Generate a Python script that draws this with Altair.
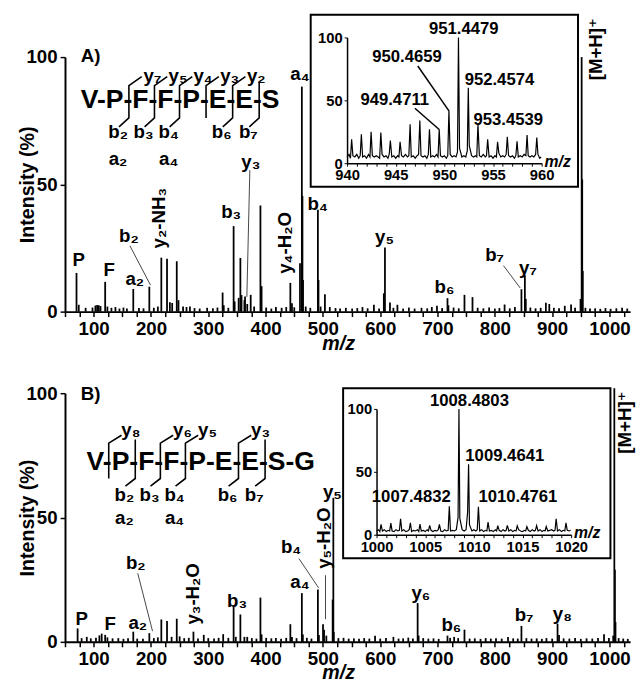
import altair as alt
import pandas as pd

FONT = "Liberation Sans, DejaVu Sans, sans-serif"

# ================= DATA =================
# Panel A: VPFFPEES spectrum (m/z, relative intensity %)
a_mz = [70.07, 74, 86, 98, 103, 106, 109, 112, 120.08, 124, 131, 138, 145, 152, 158,
        169.13, 179, 187, 197.13, 205, 212, 218.07, 228, 233, 237, 245, 248, 256, 262,
        268, 276, 285, 298, 308, 316, 325, 327, 335, 344.2, 346, 353, 356, 358, 363,
        364.13, 368, 374, 380, 391, 393, 401, 410, 418, 428, 436, 443.2, 446, 450, 460,
        463.26, 464.3, 465.3, 470, 478, 491.26, 492.3, 496, 503.5, 512, 522, 530, 540,
        551, 560, 569, 578, 589, 598, 606.3, 608.25, 617, 623, 630, 640, 650, 660, 672,
        682, 690, 699, 708, 717.36, 719, 728, 737, 747, 761, 770, 780, 790, 800, 808,
        817, 826, 835, 846.4, 852.38, 854, 862, 871, 880, 889, 895, 903, 912, 922, 933,
        940, 949.5, 951.45, 952.45, 953.45, 958, 966, 975, 984, 993, 1002, 1012, 1022,
        1031]
a_int = [15.2, 2.7, 1.5, 1.6, 2.4, 2.6, 2.5, 2.2, 11.7, 2.0, 1.5, 1.8, 1.2, 1.6, 1.2,
         8.9, 1.4, 1.3, 9.8, 1.5, 2.0, 21.2, 20.8, 3.7, 3.4, 19.8, 4.5, 2.0, 1.8,
         2.0, 1.4, 1.2, 1.5, 1.3, 1.6, 7.5, 2.5, 1.5, 33.6, 4.0, 5.4, 21.1, 6.5, 4.5,
         5.9, 3.0, 6.6, 2.0, 41.7, 10.0, 1.6, 1.2, 1.8, 1.5, 1.8, 11.3, 3.3, 1.7, 19.0,
         88.4, 45.4, 12.4, 2.0, 1.5, 40.0, 12.4, 2.0, 6.8, 1.8, 1.4, 1.2, 1.5,
         1.2, 1.4, 1.8, 1.3, 2.7, 1.2, 7.2, 25.2, 3.6, 1.5, 2.7, 1.2, 1.6, 1.2, 1.5,
         1.3, 1.8, 2.3, 1.4, 5.3, 2.5, 1.6, 1.3, 6.6, 5.7, 1.5, 1.3, 1.6, 1.2, 1.4,
         2.8, 1.3, 1.8, 8.8, 14.3, 5.0, 1.6, 1.3, 1.5, 3.5, 3.0, 1.5, 1.3, 2.3, 2.8,
         1.5, 5.0, 100, 52, 16, 1.5, 1.2, 1.3, 1.1, 1.4, 1.1, 1.3, 1.5,
         1.2]

# Panel B: VPFFPEESG spectrum
b_mz = [72, 79, 88, 95, 104, 110, 114, 120.08, 124, 133, 143, 152, 160,
        169.13, 176, 186, 197.13, 205, 212, 218.07, 228, 236, 245, 250, 258, 266,
        274.1, 282, 292.1, 300, 310, 318, 326, 335, 344.2, 348, 356, 363, 368,
        376, 384, 391, 393, 401, 410, 418, 427, 436, 443.2, 446, 454, 463.26,
        465, 472, 480, 491.26, 493, 500.2, 502, 506, 517, 518.2, 519, 527, 536,
        545, 554, 563, 572, 581, 591, 600, 610, 623, 632, 640, 649, 657,
        665.29, 667, 675, 684, 693, 702, 717.36, 722, 729, 736, 747, 756, 765,
        775, 784, 793, 802, 812, 823, 832, 840, 846.4, 855, 864, 873, 882,
        890, 900, 909.4, 912, 920, 930, 940, 950, 960, 970, 980, 990.5, 999,
        1006.5, 1008.48, 1009.47, 1010.5, 1016, 1024, 1032]
b_int = [5.4, 1.5, 2.0, 1.4, 1.6, 2.6, 3.3, 2.8, 1.8, 1.4, 1.5, 1.2, 1.4,
         4.1, 1.3, 1.2, 3.5, 1.5, 1.8, 9.0, 8.4, 2.0, 9.3, 2.2, 1.5, 1.6,
         4.1, 1.3, 2.8, 1.5, 1.3, 1.6, 3.1, 1.6, 14.6, 2.0, 11.0, 2.0, 2.0,
         1.5, 1.3, 17.8, 3.0, 1.6, 1.4, 1.5, 1.2, 1.6, 7.1, 2.0, 1.5, 19.6,
         3.0, 1.6, 1.3, 21.1, 2.8, 7.1, 4.9, 2.5, 17, 57.9, 4.0, 1.5, 1.6,
         1.3, 1.4, 1.2, 1.5, 1.3, 2.5, 1.3, 1.5, 2.0, 1.3, 1.4, 1.7, 1.3,
         15.6, 2.5, 1.5, 1.3, 1.4, 1.2, 2.5, 1.6, 2.0, 1.5, 4.9, 1.3, 1.4,
         1.2, 1.5, 1.3, 1.4, 1.3, 2.0, 1.4, 1.3, 6.4, 1.5, 1.3, 1.4, 1.2,
         1.5, 1.3, 7.3, 2.8, 1.4, 1.3, 1.5, 1.2, 1.4, 1.3, 1.5, 3.1, 1.5,
         2.5, 102, 29, 8.0, 1.5, 1.3, 1.2]

# Inset A: isotope region 940-960 (profile trace)
ia_mz = [940.0, 940.2, 940.35, 940.47, 940.6, 940.8,
         941.0, 941.2, 941.35, 941.47, 941.6, 941.8,
         942.0, 942.2, 942.35, 942.47, 942.6, 942.8,
         943.0, 943.2, 943.35, 943.47, 943.6, 943.8,
         944.0, 944.2, 944.33, 944.45, 944.6, 944.8,
         945.0, 945.2, 945.33, 945.45, 945.6, 945.8,
         946.0, 946.2, 946.35, 946.48, 946.6, 946.8,
         947.0, 947.2, 947.35, 947.48, 947.6, 947.8,
         948.0, 948.2, 948.35, 948.47, 948.6, 948.8,
         949.0, 949.2, 949.35, 949.47, 949.6, 949.8,
         950.0, 950.2, 950.35, 950.47, 950.6, 950.8,
         951.0, 951.2, 951.35, 951.45, 951.56, 951.8,
         952.0, 952.2, 952.36, 952.46, 952.56, 952.8,
         953.0, 953.2, 953.33, 953.45, 953.6, 953.8,
         954.0, 954.2, 954.33, 954.45, 954.6, 954.8,
         955.0, 955.2, 955.35, 955.47, 955.6, 955.8,
         956.0, 956.2, 956.35, 956.47, 956.6, 956.8,
         957.0, 957.2, 957.35, 957.47, 957.6, 957.8,
         958.0, 958.2, 958.38, 958.5, 958.62, 958.8,
         959.0, 959.2, 959.38, 959.5, 959.62, 959.8,
         959.95]
ia_int = [5, 7, 4, 19, 6, 5,
          7, 4, 6, 23, 5, 6,
          4, 7, 5, 25, 6, 5,
          6, 5, 4, 24.5, 7, 5,
          6, 4, 7, 18, 5, 6,
          4, 6, 5, 17, 6, 5,
          7, 5, 6, 31, 5, 6,
          4, 6, 7, 34, 6, 5,
          6, 4, 7, 27, 5, 6,
          5, 7, 5, 27, 6, 5,
          6, 4, 6, 42, 7, 5,
          6, 5, 9, 100, 12, 5,
          6, 5, 10, 60, 14, 6,
          5, 6, 5, 31, 6, 5,
          7, 5, 6, 19, 5, 6,
          4, 6, 5, 17, 8, 5,
          6, 5, 7, 21, 6, 5,
          6, 4, 6, 17.5, 5, 6,
          5, 7, 6, 22.5, 6, 5,
          6, 5, 7, 20.5, 7, 4,
          5]

# Inset B: isotope region 1000-1020 (profile trace)
ib_mz = [1000.0, 1000.2, 1000.34, 1000.46, 1000.6, 1000.8,
         1001.0, 1001.2, 1001.35, 1001.47, 1001.6, 1001.8,
         1002.0, 1002.2, 1002.35, 1002.47, 1002.6, 1002.8,
         1003.0, 1003.2, 1003.36, 1003.48, 1003.6, 1003.8,
         1004.0, 1004.2, 1004.34, 1004.46, 1004.6, 1004.8,
         1005.0, 1005.2, 1005.34, 1005.46, 1005.6, 1005.8,
         1006.0, 1006.2, 1006.34, 1006.46, 1006.6, 1006.8,
         1007.0, 1007.2, 1007.36, 1007.48, 1007.6, 1007.8,
         1008.0, 1008.2, 1008.38, 1008.47, 1008.56, 1008.8,
         1009.0, 1009.2, 1009.36, 1009.46, 1009.55, 1009.8,
         1010.0, 1010.2, 1010.35, 1010.47, 1010.6, 1010.8,
         1011.0, 1011.2, 1011.34, 1011.46, 1011.6, 1011.8,
         1012.0, 1012.2, 1012.34, 1012.46, 1012.6, 1012.8,
         1013.0, 1013.2, 1013.32, 1013.44, 1013.6, 1013.8,
         1014.0, 1014.2, 1014.34, 1014.46, 1014.6, 1014.8,
         1015.0, 1015.2, 1015.33, 1015.45, 1015.6, 1015.8,
         1016.0, 1016.2, 1016.33, 1016.45, 1016.6, 1016.8,
         1017.0, 1017.2, 1017.32, 1017.44, 1017.6, 1017.8,
         1018.0, 1018.2, 1018.34, 1018.46, 1018.6, 1018.8,
         1019.0, 1019.2, 1019.35, 1019.47, 1019.6, 1019.8,
         1019.95]
ib_int = [3, 4, 2.5, 8.3, 3, 4,
          2.5, 3.5, 3, 9.2, 3, 2.5,
          4, 3, 3.5, 12.7, 3, 4,
          2.5, 3, 4, 9.5, 2.5, 3.5,
          3, 4, 2.5, 8.5, 3, 3.5,
          2.5, 4, 3, 7.4, 3.5, 2.5,
          3.5, 3, 4, 8.2, 3, 2.5,
          4, 3, 3.5, 22.6, 3, 3.5,
          3, 4, 14, 100, 13, 4,
          3, 4, 18, 56, 8, 3,
          4, 3, 4, 22.3, 3, 4,
          2.5, 3.5, 3, 10, 3, 3.5,
          2.5, 4, 3, 7.2, 3.5, 2.5,
          4, 3, 3.5, 7.5, 3, 4,
          2.5, 3.5, 3, 7, 4, 3,
          2.5, 3.5, 3, 6.5, 3.5, 2.5,
          4, 3, 3.5, 7.2, 3, 4,
          2.5, 3.5, 3, 6.5, 3, 3.5,
          4, 3, 3.5, 12.7, 3, 4,
          2.5, 3.5, 3, 9.5, 3.5, 3,
          3.5]

# ---- peak annotations (text, anchor m/z, anchor intensity) ----
a_lab_t = ["A)", "P", "F", "a₂", "b₂", "b₃", "y₃", "a₄", "b₄", "y₅", "b₆", "b₇", "y₇"]
a_lab_x = [94.6, 74, 127.2, 171.8, 161.5, 339.9, 374.2, 460, 490.8, 607.5, 712.1, 799.6, 857.9]
a_lab_y = [100.4, 20.1, 16.2, 12.7, 29.7, 39, 58.7, 93.4, 42.1, 29.3, 9.7, 22.4, 17]
a_rot_t = ["y₂-NH₃", "y₄-H₂O", "[M+H]⁺"]
a_rot_x = [214.7, 434.2, 976.2]
a_rot_y = [36.7, 27, 103.1]
a_lead = [(163.2, 25.9, 199.2, 10.4), (372.5, 55.6, 367.3, 5.8), (815, 18.1, 844.2, 9.3)]

b_lab_t = ["B)", "P", "F", "a₂", "b₂", "b₃", "a₄", "b₄", "y₅", "y₆", "b₆", "b₇", "y₈"]
b_lab_x = [94.6, 79.2, 128.9, 176.9, 173.5, 350.2, 460, 444.5, 516.6, 670.9, 724.1, 851, 917.9]
b_lab_y = [99.6, 9.1, 7.1, 7.5, 31.5, 16.5, 24, 38.2, 60.2, 19.7, 6.7, 10.6, 11]
b_rot_t = ["y₃-H₂O", "y₅-H₂O", "[M+H]⁺"]
b_rot_x = [273, 502.8, 1028]
b_rot_y = [19.3, 41.7, 88.2]
b_lead = [(176.9, 27.6, 202.7, 4.3), (458.2, 33.5, 492.5, 21.7), (504.5, 26.8, 504.5, 9.1)]

# ---- sequence / fragmentation diagrams ----
a_seq = "V-P-F-F-P-E-E-S"
b_seq = "V-P-F-F-P-E-E-S-G"
a_cuts = [161.5, 206.1, 249.8, 296.1, 342.5, 388.8]
b_cuts = [126.3, 172.6, 216.4, 260.1, 352.7, 399.1]
a_y_ions = ["y₇", "y₅", "y₄", "y₃", "y₂", None]
a_b_ions = ["b₂", "b₃", "b₄", None, "b₆", "b₇"]
a_a_ions = ["a₂", None, "a₄", None, None, None]
b_y_ions = ["y₈", None, "y₆", "y₅", "y₃", None]
b_b_ions = [None, "b₂", "b₃", "b₄", "b₆", "b₇"]
b_a_ions = [None, "a₂", None, "a₄", None, None]

# inset annotations
ia_lab_t = ["951.4479", "950.4659", "952.4574", "949.4711", "953.4539"]
ia_lab_x = [952.0, 946.16, 955.66, 944.9, 956.57]
ia_lab_y = [106.6, 84.4, 66.4, 50, 34.4]
ia_lead = [(947.27, 77.3, 950.47, 41.6), (946.97, 43.75, 949.47, 26.8)]
ib_lab_t = ["1008.4803", "1009.4641", "1007.4832", "1010.4761"]
ib_lab_x = [1009.55, 1013.18, 1003.57, 1014.52]
ib_lab_y = [106.5, 62.3, 29.7, 29.7]

# ================= CHART =================
PLOT_W = 575
X_MAX = 1036
XS = alt.Scale(domain=[50, X_MAX], nice=False, zero=False)
YS = alt.Scale(domain=[0, 100], nice=False, zero=False)


def xq(f, s):
    return alt.X(f + ":Q", scale=s, axis=None)


def yq(f, s):
    return alt.Y(f + ":Q", scale=s, axis=None)


def text_layer(t, x, y, xs, ys, size, angle=0, align="center", style="normal"):
    df = pd.DataFrame({"t": t, "x": x, "y": y})
    kw = dict(font=FONT, fontSize=size, fontWeight="bold", color="black",
              align=align, baseline="middle", fontStyle=style)
    if angle:
        kw["angle"] = angle
    return alt.Chart(df).mark_text(**kw).encode(x=xq("x", xs), y=yq("y", ys), text="t:N")


def lead_layer(lst, xs, ys, color, w):
    df = pd.DataFrame(lst, columns=["x", "y", "x2", "y2"])
    return alt.Chart(df).mark_rule(color=color, strokeWidth=w).encode(
        x=xq("x", xs), y=yq("y", ys), x2="x2:Q", y2="y2:Q")


def seq_layers(seq, seq_x, seq_y, cuts, yi, bi, ai, geo):
    top, bot, up_y, low_y, y_lab, b_lab, a_lab, dx_up, dx_low, dx_ylab = geo
    rows = []
    for i, bx in enumerate(cuts):
        pts = []
        if yi[i]:
            pts.append((bx + dx_up, up_y))
            pts.append((bx, top))
        else:
            pts.append((bx, top + 1.5))
        pts.append((bx, bot))
        if bi[i]:
            pts.append((bx - dx_low, low_y))
        for j, (px, py) in enumerate(pts):
            rows.append({"id": i, "o": j, "x": px, "y": py})
    br = alt.Chart(pd.DataFrame(rows)).mark_line(color="black", strokeWidth=1.6).encode(
        x=xq("x", XS), y=yq("y", YS), detail="id:N", order="o:Q")
    t, x, y = [], [], []
    for i, bx in enumerate(cuts):
        if yi[i]:
            t.append(yi[i]); x.append(bx + dx_ylab); y.append(y_lab)
        if bi[i]:
            t.append(bi[i]); x.append(bx - 18.9); y.append(b_lab)
        if ai[i]:
            t.append(ai[i]); x.append(bx - 18.9); y.append(a_lab)
    labs = text_layer(t, x, y, XS, YS, 19)
    seqt = text_layer([seq], [seq_x], [seq_y], XS, YS, 27, align="left")
    return [seqt, br, labs]


def panel(mz, inten, lab, rot, lead, seq_parts, height, title_y,
          inset_mz, inset_int, idom, irange_x, irange_y, box, ilab, ilead):
    xa = alt.Axis(orient="bottom", values=list(range(50, X_MAX + 1, 25)), format="d",
                  labelExpr="datum.value % 100 === 0 ? datum.label : ''",
                  labelOverlap=False, labelFlush=False,
                  title="m/z", titleFontStyle="italic", titleX=278, titleY=title_y,
                  titleBaseline="alphabetic", titleAlign="center",
                  tickSize=5, labelPadding=3)
    ya = alt.Axis(orient="left", values=[0, 50, 100], title="Intensity (%)",
                  titleX=-38, titleY=height / 2,
                  titleAngle=270, titleAlign="center", titleBaseline="middle",
                  tickSize=5, labelPadding=3)
    spec = alt.Chart(pd.DataFrame({"mz": mz, "int": inten})).mark_rule(
        color="black", strokeWidth=1.8).encode(
        x=alt.X("mz:Q", scale=XS, axis=xa),
        y=alt.Y("int:Q", scale=YS, axis=ya),
        y2=alt.datum(0))

    ixs = alt.Scale(domain=idom, range=irange_x, nice=False, zero=False)
    iys = alt.Scale(domain=[0, 100], range=irange_y, nice=False, zero=False)
    ixa = alt.Axis(orient="bottom", offset=irange_y[0] - height,
                   values=list(range(idom[0], idom[1] + 1)), format="d",
                   labelExpr="datum.value % 5 === 0 ? datum.label : ''",
                   labelOverlap=False, labelFlush=False, title=None,
                   labelFontSize=15, tickSize=3, labelPadding=2,
                   domainWidth=1.5, tickWidth=1, zindex=2)
    iya = alt.Axis(orient="left", offset=-irange_x[0], values=[0, 50, 100], title=None,
                   labelFontSize=15, tickSize=3, labelPadding=2,
                   domainWidth=1.5, tickWidth=1, zindex=2)
    boxl = alt.Chart(pd.DataFrame({"k": [0]})).mark_rect(
        fill="white", stroke="black", strokeWidth=2).encode(
        x=alt.value(box[0]), x2=alt.value(box[1]), y=alt.value(box[2]), y2=alt.value(box[3]))
    prof = alt.Chart(pd.DataFrame({"mz": inset_mz, "int": inset_int})).mark_line(
        color="black", strokeWidth=1.2).encode(
        x=alt.X("mz:Q", scale=ixs, axis=ixa),
        y=alt.Y("int:Q", scale=iys, axis=iya))
    layers = [spec,
              lead_layer(lead, XS, YS, "#444444", 1),
              text_layer(*lab, XS, YS, 19),
              text_layer(*rot, XS, YS, 19, angle=270),
              *seq_parts,
              boxl, prof,
              text_layer(*ilab, ixs, iys, 17),
              text_layer(["m/z"], [idom[1] + 0.3], [1], ixs, iys, 16,
                         align="left", style="italic")]
    if ilead:
        layers.append(lead_layer(ilead, ixs, iys, "black", 1.5))
    return alt.layer(*layers).resolve_scale(
        x="independent", y="independent").properties(width=PLOT_W, height=height)


A_H, B_H = 259, 253
geo_a = (88.8, 76.1, 92.3, 72.6, 92.7, 70.7, 59.8, 22.3, 17.2, 41.2)
geo_b = (79.9, 65.7, 83.1, 62.6, 85.0, 59.1, 49.6, 22.3, 17.2, 38.6)

panel_a = panel(a_mz, a_int, (a_lab_t, a_lab_x, a_lab_y), (a_rot_t, a_rot_x, a_rot_y), a_lead,
                seq_layers(a_seq, 77.4, 83.0, a_cuts, a_y_ions, a_b_ions, a_a_ions, geo_a),
                A_H, 39, ia_mz, ia_int, [940, 960], [287, 485], [108, -20],
                (250, 522, -43, 132), (ia_lab_t, ia_lab_x, ia_lab_y), ia_lead)
panel_b = panel(b_mz, b_int, (b_lab_t, b_lab_x, b_lab_y), (b_rot_t, b_rot_x, b_rot_y), b_lead,
                seq_layers(b_seq, 87.7, 72.4, b_cuts, b_y_ions, b_b_ions, b_a_ions, geo_b),
                B_H, 37, ib_mz, ib_int, [1000, 1020], [317, 515], [144, 16],
                (283, 555, -5, 168), (ib_lab_t, ib_lab_x, ib_lab_y), None)

chart = alt.vconcat(panel_a, panel_b, spacing=31).properties(
    padding={"left": 10, "top": 0, "right": 0, "bottom": 0}
).configure_view(stroke=None).configure_axis(
    labelFont=FONT, titleFont=FONT, labelFontWeight="bold", titleFontWeight="bold",
    labelColor="black", titleColor="black", domainColor="black", tickColor="black",
    domainWidth=2, tickWidth=1.5, grid=False, labelFontSize=19, titleFontSize=20)

chart.save("out.html", embed_options={"renderer": "svg", "actions": False})
